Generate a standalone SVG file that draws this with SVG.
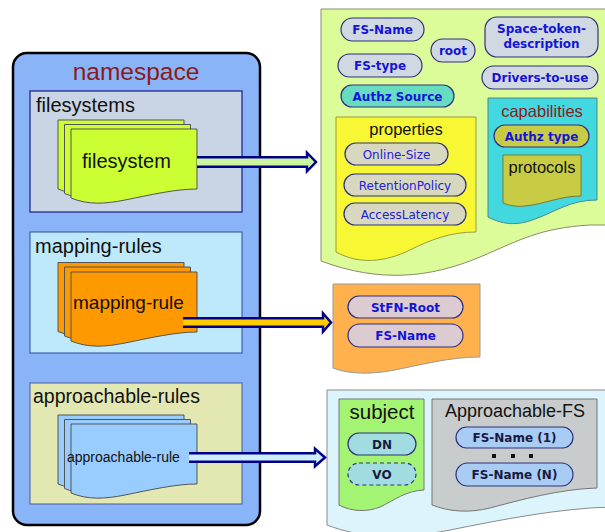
<svg xmlns="http://www.w3.org/2000/svg" xmlns:xlink="http://www.w3.org/1999/xlink" width="605" height="532" viewBox="0 0 605 532">
<defs>
<style>
.lbl{font-family:"Liberation Sans",Arial,sans-serif;fill:#111}
.red{fill:#8b1a1a}
.pt{font-family:"DejaVu Sans",Verdana,sans-serif;font-size:12px;font-weight:bold;fill:#1414d8;text-anchor:middle}
.pn{font-family:"DejaVu Sans",Verdana,sans-serif;font-size:12px;fill:#2020e0;text-anchor:middle}
.pd{font-family:"DejaVu Sans",Verdana,sans-serif;font-size:12px;font-weight:bold;fill:#1a1a40;text-anchor:middle}
.pill{stroke:#30307a;stroke-width:1.2}
.doc{stroke:#555;stroke-width:1}
.arrow{stroke:#00008b;stroke-width:2.5;stroke-linejoin:miter}
</style>
<path id="docShape" d="M0,0 H126 V60 C104,60 79,66 54,71 C34,75 17,76 0,69 Z"/>
</defs>

<g id="namespace">
<rect x="13" y="53" width="247" height="472" rx="14" fill="#8ab4f8" stroke="#000" stroke-width="2.5"/>
<text class="lbl red" x="136" y="80" font-size="24.5" text-anchor="middle">namespace</text>
</g>

<g id="filesystems">
<rect x="30" y="91" width="212" height="121" fill="#c9d4e4" stroke="#1a1a8c" stroke-width="1.2"/>
<text class="lbl" x="36" y="112" font-size="20">filesystems</text>
</g>
<g id="filesystem">
<use xlink:href="#docShape" href="#docShape" class="doc" fill="#ccff33" x="58" y="120"/>
<use xlink:href="#docShape" href="#docShape" class="doc" fill="#ccff33" x="64.5" y="124.5"/>
<use xlink:href="#docShape" href="#docShape" class="doc" fill="#ccff33" x="71" y="129"/>
<text class="lbl" x="82" y="168" font-size="20">filesystem</text>
</g>

<g id="mapping-rules">
<rect x="30" y="232" width="212" height="121" fill="#bde9fb" stroke="#2a4aa0" stroke-width="1"/>
<text class="lbl" x="35" y="253" font-size="20">mapping-rules</text>
</g>
<g id="mapping-rule">
<use xlink:href="#docShape" href="#docShape" class="doc" fill="#ff9900" x="58" y="262.5"/>
<use xlink:href="#docShape" href="#docShape" class="doc" fill="#ff9900" x="64.5" y="267"/>
<use xlink:href="#docShape" href="#docShape" class="doc" fill="#ff9900" x="71" y="272"/>
<text class="lbl" x="73" y="309" font-size="19">mapping-rule</text>
</g>

<g id="approachable-rules">
<rect x="30" y="383" width="212" height="121" fill="#e3e8b3" stroke="#4a5aa0" stroke-width="1"/>
<text class="lbl" x="33" y="403" font-size="19.5">approachable-rules</text>
</g>
<g id="approachable-rule">
<use xlink:href="#docShape" href="#docShape" class="doc" fill="#99ccff" x="58" y="415"/>
<use xlink:href="#docShape" href="#docShape" class="doc" fill="#99ccff" x="64.5" y="419.5"/>
<use xlink:href="#docShape" href="#docShape" class="doc" fill="#99ccff" x="71" y="424"/>
<text class="lbl" x="67" y="462" font-size="14">approachable-rule</text>
</g>

<g id="filesystem-detail">
<path d="M321,9 H612 V225 L590,225 C540,228 520,240 480,257 C430,278 380,283 321,261 Z" fill="#dcfc9a" stroke="#8a8a70" stroke-width="1"/>
<rect class="pill" x="341" y="18" width="83" height="23" rx="11.5" fill="#d0d8e2"/>
<text class="pt" x="382.5" y="34">FS-Name</text>
<rect class="pill" x="431" y="39" width="44" height="23" rx="11.5" fill="#d0d8e2"/>
<text class="pt" x="453" y="55">root</text>
<rect class="pill" x="485" y="17" width="113" height="40" rx="12" fill="#d0d8e2"/>
<text class="pt" x="541.5" y="33">Space-token-</text>
<text class="pt" x="541.5" y="48">description</text>
<rect class="pill" x="338" y="54" width="84" height="23" rx="11.5" fill="#d0d8e2"/>
<text class="pt" x="380" y="70">FS-type</text>
<rect class="pill" x="482" y="66" width="116" height="23" rx="11.5" fill="#d0d8e2"/>
<text class="pt" x="540" y="82">Drivers-to-use</text>
<rect class="pill" x="341" y="85" width="113" height="22" rx="11" fill="#66dcc0"/>
<text class="pt" x="397.5" y="100.5">Authz Source</text>
</g>

<g id="properties">
<path d="M336,117 H476 V232 C450,232 430,240 410,250 C385,262 360,265 336,252 Z" fill="#f7f733" stroke="#9a9a40" stroke-width="1"/>
<text class="lbl" x="406" y="135" font-size="16.5" text-anchor="middle">properties</text>
<rect class="pill" x="345" y="143" width="103" height="22" rx="11" fill="#d8d8c0"/>
<text class="pn" x="396.5" y="158.5">Online-Size</text>
<rect class="pill" x="344" y="174" width="122" height="22" rx="11" fill="#d8d8c0"/>
<text class="pn" x="405" y="189.5">RetentionPolicy</text>
<rect class="pill" x="344" y="203" width="122" height="22" rx="11" fill="#d8d8c0"/>
<text class="pn" x="405" y="218.5">AccessLatency</text>
</g>

<g id="capabilities">
<path d="M488,98 H597 V200 C570,200 555,212 535,219 C520,225 505,226 488,217 Z" fill="#42d8e0" stroke="#4a8a8a" stroke-width="1"/>
<text class="lbl red" x="542" y="117" font-size="16.5" text-anchor="middle">capabilities</text>
<rect class="pill" x="494" y="125" width="95" height="22" rx="11" fill="#c8cc44"/>
<text class="pt" x="541.5" y="140.5">Authz type</text>
</g>
<g id="protocols">
<path d="M503,155 H581 V196 C560,196 545,204 525,206 C515,207 508,205 503,203 Z" fill="#c8cc44" stroke="#7a7a30" stroke-width="1"/>
<text class="lbl" x="542" y="173" font-size="16.5" text-anchor="middle">protocols</text>
</g>

<g id="mapping-detail">
<path d="M333,284 H480 V357 C450,357 420,365 395,370 C375,374 350,375 333,368 Z" fill="#ffb14d" stroke="#999" stroke-width="1"/>
<rect class="pill" x="348" y="296" width="115" height="22" rx="11" fill="#dccbd0"/>
<text class="pt" x="405.5" y="311.5">StFN-Root</text>
<rect class="pill" x="348" y="324" width="115" height="23" rx="11.5" fill="#dccbd0"/>
<text class="pt" x="405.5" y="340">FS-Name</text>
</g>

<g id="approachable-detail">
<path d="M327,390 H612 V507 C560,508 500,520 450,530 C400,540 360,538 327,525 Z" fill="#dcf4fc" stroke="#8a8a8a" stroke-width="1"/>
</g>
<g id="subject">
<path d="M339,399 H424 V490 C405,491 395,500 380,507 C368,512 352,512 339,505 Z" fill="#a4f474" stroke="#777" stroke-width="1"/>
<text class="lbl" x="382" y="419" font-size="20.5" text-anchor="middle">subject</text>
<rect class="pill" x="348" y="433" width="68" height="22" rx="11" fill="#a0dce0"/>
<text class="pd" x="382" y="448.5">DN</text>
<rect class="pill" x="348" y="463" width="68" height="22" rx="11" fill="#a0dce0" stroke-dasharray="4,3"/>
<text class="pd" x="382" y="478.5">VO</text>
</g>
<g id="approachable-fs">
<path d="M432,399 H597 V488 C560,489 520,500 490,508 C470,513 450,512 432,505 Z" fill="#c8cccc" stroke="#777" stroke-width="1"/>
<text class="lbl" x="515" y="417" font-size="18" text-anchor="middle">Approachable-FS</text>
<rect class="pill" x="456" y="427" width="117" height="21" rx="10.5" fill="#a8ccf4"/>
<text class="pd" x="514.5" y="442">FS-Name (1)</text>
<rect x="492" y="454" width="4" height="4" fill="#111"/>
<rect x="511" y="454" width="4" height="4" fill="#111"/>
<rect x="529" y="454" width="4" height="4" fill="#111"/>
<rect class="pill" x="456" y="463" width="117" height="23" rx="11.5" fill="#a8ccf4"/>
<text class="pd" x="514.5" y="479">FS-Name (N)</text>
</g>

<g id="connectors">
<path class="arrow" fill="#ccf5a0" d="M197,157.25 H307 V152.75 L316,162 L307,171.25 V166.75 H197"/>
<path class="arrow" fill="#ffcc00" d="M183,318.25 H323 V313.25 L331,322.5 L323,331.75 V326.75 H183"/>
<path class="arrow" fill="#cceeff" d="M189,453.25 H315 V448.75 L325,457.5 L315,466.25 V461.75 H189"/>
</g>
</svg>
